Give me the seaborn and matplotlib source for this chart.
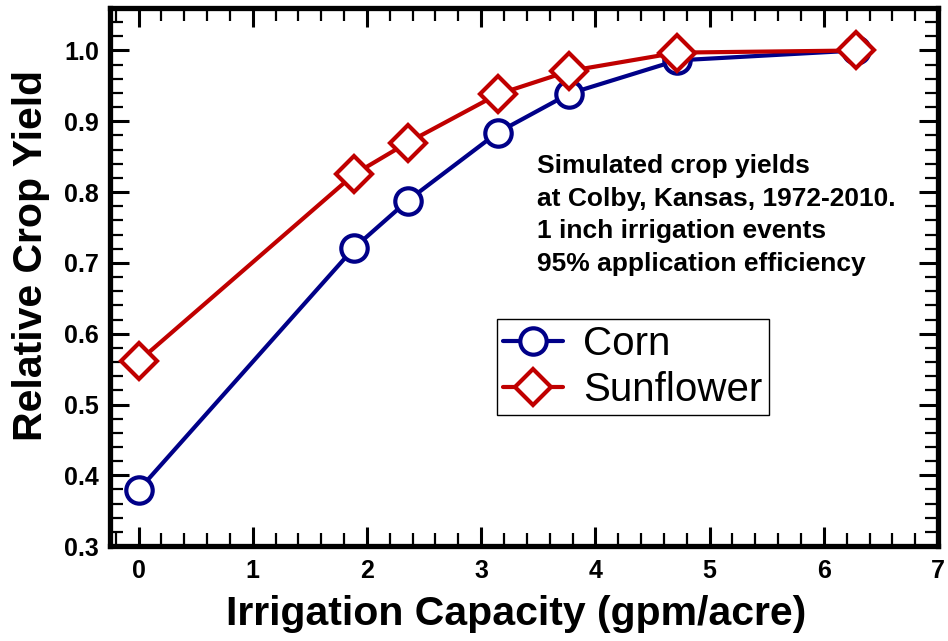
import numpy as np
import seaborn as sns
import matplotlib.pyplot as plt
from matplotlib.ticker import MultipleLocator

# === Data ===

capacity = [0.0, 1.886, 2.357, 3.143, 3.771, 4.714, 6.286]
corn_yield = [0.379, 0.721, 0.788, 0.884, 0.939, 0.986, 1.000]
sunflower_yield = [0.561, 0.825, 0.870, 0.938, 0.971, 0.997, 1.000]

note_lines = [
    "Simulated crop yields",
    "at Colby, Kansas, 1972-2010.",
    "1 inch irrigation events",
    "95% application efficiency",
]

# === Style ===

sns.set_style("ticks")
plt.rcParams['font.family'] = ['Liberation Sans', 'DejaVu Sans']
plt.rcParams['text.color'] = 'black'
plt.rcParams['axes.labelcolor'] = 'black'
plt.rcParams['xtick.color'] = 'black'
plt.rcParams['ytick.color'] = 'black'

corn_color = "#000088"
sun_color = "#C00000"

fig = plt.figure(figsize=(9.48, 6.41), dpi=100)
ax = fig.add_axes([0.116, 0.148, 0.8735, 0.8395])

sns.lineplot(x=capacity, y=corn_yield, ax=ax, color=corn_color, lw=3,
             marker='o', ms=19, mfc='white', mec=corn_color, mew=3,
             label='Corn', zorder=3)
sns.lineplot(x=capacity, y=sunflower_yield, ax=ax, color=sun_color, lw=3,
             marker='D', ms=18, mfc='white', mec=sun_color, mew=3,
             label='Sunflower', zorder=4)

ax.set_xlim(-0.25, 7)
ax.set_ylim(0.3, 1.06)
ax.xaxis.set_major_locator(MultipleLocator(1))
ax.xaxis.set_minor_locator(MultipleLocator(0.2))
ax.yaxis.set_major_locator(MultipleLocator(0.1))
ax.yaxis.set_minor_locator(MultipleLocator(0.02))
ax.yaxis.set_major_formatter(plt.FuncFormatter(lambda v, p: f"{v:.1f}"))

ax.tick_params(which='both', direction='in', top=True, right=True,
               labeltop=False, labelright=False, colors='black')
ax.tick_params(which='major', length=14, width=2.2)
ax.tick_params(which='minor', length=9.5, width=1.6)
ax.tick_params(axis='x', which='major', pad=9)
ax.tick_params(axis='y', which='major', pad=8)
for lbl in ax.get_xticklabels() + ax.get_yticklabels():
    lbl.set_fontsize(18)
    lbl.set_fontweight('bold')

for sp in ax.spines.values():
    sp.set_visible(True)
    sp.set_linewidth(3.8)
    sp.set_color('black')

ax.set_xlabel("Irrigation Capacity (gpm/acre)", fontsize=29.5, fontweight='bold')
ax.set_ylabel("Relative Crop Yield", fontsize=29.5, fontweight='bold')
ax.xaxis.set_label_coords(0.49, -0.09)
ax.yaxis.set_label_coords(-0.072, 0.54)

ax.text(0.516, 0.728, "\n".join(note_lines), transform=ax.transAxes,
        ha='left', va='top', fontsize=19, fontweight='bold',
        linespacing=1.45)

leg = ax.legend(loc='upper left', bbox_to_anchor=(0.467, 0.422),
                borderaxespad=0, fontsize=29, handlelength=1.5,
                handletextpad=0.5, fancybox=False, framealpha=1,
                edgecolor='black', borderpad=0.15, labelspacing=0.2)
leg.get_frame().set_linewidth(1.0)

fig.savefig("out.png", dpi=100)
